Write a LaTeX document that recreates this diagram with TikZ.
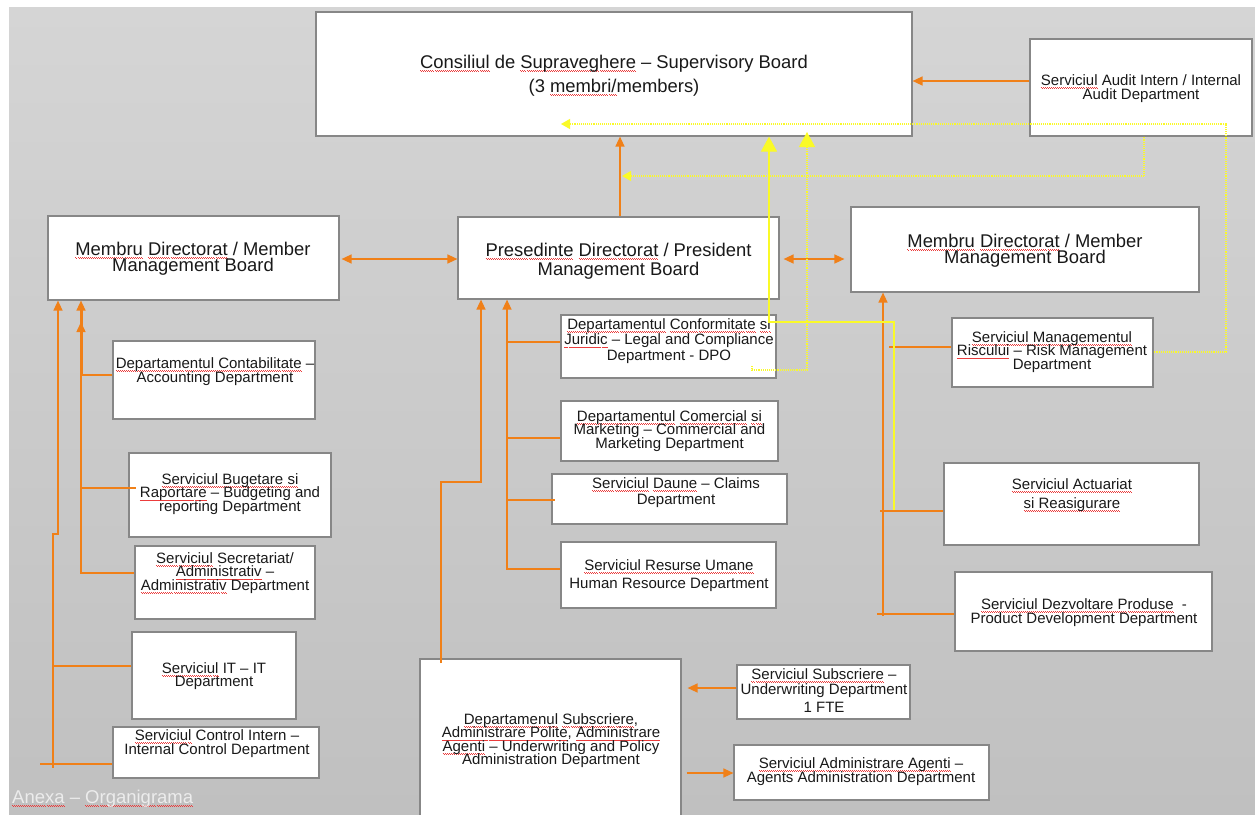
\documentclass[tikz,border=0pt]{standalone}
\usepackage{fontspec}
\setmainfont{Liberation Sans}
\usetikzlibrary{arrows.meta,fit}
\definecolor{orng}{RGB}{240,128,24}
\definecolor{bgtop}{RGB}{213,213,213}
\definecolor{bgbot}{RGB}{192,192,192}
\definecolor{bord}{RGB}{135,135,135}
\definecolor{txt}{RGB}{25,25,25}
\definecolor{sqred}{RGB}{235,60,60}
\definecolor{ylw}{RGB}{250,250,40}
\definecolor{anx}{RGB}{236,236,236}
\newsavebox\sqbox
\newcommand\sq[1]{\sbox\sqbox{#1}\rlap{\color{sqred}\xleaders\hbox{\vrule height -2pt depth 2.9pt width 1pt\vrule height -2.9pt depth 3.8pt width 1pt}\hskip\wd\sqbox}\usebox\sqbox}
\newcommand\ml[2]{\vtop{\baselineskip=#1\lineskiplimit=-\maxdimen\lineskip=0pt\halign{\hfil##\hfil\cr#2\crcr}}}
\tikzset{
 box/.style={draw=bord, line width=1.2pt, fill=white, inner sep=0pt},
 tx/.style={anchor=base, inner sep=0pt, text=txt},
 big/.style={font=\fontsize{18.4}{20}\selectfont},
 sml/.style={font=\fontsize{15}{15}\selectfont},
 conn/.style={draw=orng, line width=1.5pt},
 arr/.style={conn, -{Triangle[length=10pt,width=9pt]}},
 darr/.style={conn, {Triangle[length=10pt,width=9pt]}-{Triangle[length=10pt,width=9pt]}},
 yl/.style={draw=ylw, line width=1.2pt},
 ydot/.style={yl, dash pattern=on 1pt off 0.9pt},
 ysm/.style={-{Triangle[length=9pt,width=10pt]}},
 ybig/.style={-{Triangle[length=15pt,width=16pt]}}
}
\begin{document}
\begin{tikzpicture}[x=1pt,y=-1pt]
\useasboundingbox (0,0) rectangle (1255,814);
\fill[white] (0,0) rectangle (1255,814);
\shade[top color=bgtop, bottom color=bgbot] (9,7) rectangle (1255,814);

% boxes
\node[box, fit={(316,12) (912,136)}] (sv) {};
\node[box, fit={(1030,39) (1252,136)}] (aud) {};
\node[box, fit={(48,216) (339,300)}] (lm) {};
\node[box, fit={(458,217) (779,299)}] (pr) {};
\node[box, fit={(851,207) (1199,292)}] (rm) {};
\node[box, fit={(561,315) (776,378)}] (conf) {};
\node[box, fit={(952,318) (1153,387)}] (risk) {};
\node[box, fit={(113,341) (315,419)}] (cont) {};
\node[box, fit={(561,401) (778,461)}] (com) {};
\node[box, fit={(552,474) (787,524)}] (dau) {};
\node[box, fit={(561,542) (776,608)}] (res) {};
\node[box, fit={(129,453) (331,537)}] (bug) {};
\node[box, fit={(135,546) (315,619)}] (sec) {};
\node[box, fit={(944,463) (1199,545)}] (act) {};
\node[box, fit={(955,572) (1212,651)}] (dez) {};
\node[box, fit={(132,632) (296,719)}] (it) {};
\node[box, fit={(113,727) (319,778)}] (ctl) {};
\node[box, fit={(420,659) (681,820)}] (sub) {};
\node[box, fit={(737,665) (910,719)}] (uw) {};
\node[box, fit={(734,745) (989,800)}] (agt) {};

% texts
\node[tx,big] (svt) at (614,68) {\ml{24pt}{\sq{Consiliul} de \sq{Supraveghere} – Supervisory Board\cr (3 \sq{membri/}members)}};
\node[tx,sml] (audt) at (1141,85) {\ml{14pt}{\sq{Serviciul} Audit Intern / Internal\cr Audit Department}};
\node[tx,big] (lmt) at (193,255) {\ml{16pt}{\sq{Membru} \sq{Directorat} / Member\cr Management Board}};
\node[tx,big] (prt) at (618.5,256) {\ml{19pt}{\sq{Presedinte} \sq{Directorat} / President\cr Management Board}};
\node[tx,big] (rmt) at (1025,247) {\ml{16pt}{\sq{Membru} \sq{Directorat} / Member\cr Management Board}};
\node[tx,sml] (conft) at (669,329) {\ml{15.5pt}{\sq{Departamentul} \sq{Conformitate} \sq{si}\cr \sq{Juridic} – Legal and Compliance\cr Department - DPO}};
\node[tx,sml] (comt) at (669.5,421) {\ml{13.5pt}{\sq{Departamentul} \sq{Comercial} \sq{si}\cr Marketing – Commercial and\cr Marketing Department}};
\node[tx,sml] (daut) at (676,488) {\ml{16pt}{\sq{Serviciul} \sq{Daune} – Claims\cr Department}};
\node[tx,sml] (rest) at (669,570) {\ml{18pt}{\sq{Serviciul Resurse Umane}\cr Human Resource Department}};
\node[tx,sml] (contt) at (215,368) {\ml{14pt}{\sq{Departamentul Contabilitate} –\cr Accounting Department}};
\node[tx,sml] (bugt) at (230,484) {\ml{13.5pt}{\sq{Serviciul Bugetare si}\cr \sq{Raportare} – Budgeting and\cr reporting Department}};
\node[tx,sml] (sect) at (225,563) {\ml{13.5pt}{\sq{Serviciul} Secretariat/\cr \sq{Administrativ} –\cr \sq{Administrativ} Department}};
\node[tx,sml] (itt) at (214,673) {\ml{13pt}{\sq{Serviciul} IT – IT\cr Department}};
\node[tx,sml] (ctlt) at (217,740) {\ml{14pt}{\sq{Serviciul} Control Intern –\cr Internal Control Department}};
\node[tx,sml] (riskt) at (1052,342) {\ml{13.5pt}{\sq{Serviciul Managementul}\cr \sq{Riscului} – Risk Management\cr Department}};
\node[tx,sml] (actt) at (1072,489) {\ml{19pt}{\sq{Serviciul Actuariat}\cr \sq{si Reasigurare}}};
\node[tx,sml] (dezt) at (1084,609) {\ml{14pt}{\sq{Serviciul Dezvoltare Produse}\ \ -\cr Product Development Department}};
\node[tx,sml] (subt) at (551,724) {\ml{13.5pt}{\sq{Departamenul} \sq{Subscriere},\cr \sq{Administrare Polite}, \sq{Administrare}\cr \sq{Agenti} – Underwriting and Policy\cr Administration Department}};
\node[tx,sml] (uwt) at (824,679) {\ml{15pt}{\sq{Serviciul Subscriere} –\cr Underwriting Department\cr\noalign{\vskip3pt} 1 FTE}};
\node[tx,sml] (agtt) at (861,768) {\ml{14pt}{\sq{Serviciul Administrare Agenti} –\cr Agents Administration Department}};
\node[anchor=base west, inner sep=0pt, text=anx, font=\fontsize{18.5}{20}\selectfont] (anxt) at (12,803) {\sq{Anexa} – \sq{Organigrama}};

% orange connectors
\draw[arr] (aud.west |- 0,81) -- (sv.east |- 0,81);
\draw[arr] (pr.north -| 620,0) -- (sv.south -| 620,0);
\draw[darr, shorten <=2pt] (lm.east |- 0,259) -- (pr.west |- 0,259);
\draw[darr, shorten <=4pt, shorten >=6pt] (pr.east |- 0,259) -- (rm.west |- 0,259);

% left group
\draw[arr] (ctl.west |- 0,764) -| (53,534) -| (lm.south west -| 58,0);
\draw[conn] (40,764) -- (53,764) -- (53,768);
\draw[conn] (53,666) -- (it.west |- 0,666);
\draw[arr] (sec.west |- 0,573) -| (lm.south west -| 81,0);
\draw[conn, line width=3pt] (81,376) -- (81,306);
\draw[arr] (81,345) -- (81,322);
\draw[conn] (cont.west |- 0,375) -- (81,375);
\draw[conn, shorten >=-8pt] (81,488) -- (bug.west |- 0,488);

% president group
\draw[arr] (441,663) |- (481,482) -- (pr.south -| 481,0);
\draw[arr] (res.west |- 0,569) -| (pr.south -| 507,0);
\draw[conn] (conf.west |- 0,342) -- (507,342);
\draw[conn] (com.west |- 0,438) -- (507,438);
\draw[conn, shorten >=-4pt] (507,500) -- (dau.west |- 0,500);

% right group
\draw[arr] (883,616) -- (rm.south -| 883,0);
\draw[conn] (877,614) -- (dez.west |- 0,614);
\draw[conn] (880,511) -- (act.west |- 0,511);
\draw[conn] (889,347) -- (risk.west |- 0,347);

% bottom
\draw[arr, shorten >=6pt] (uw.west |- 0,688) -- (sub.east |- 0,688);
\draw[arr, shorten <=5pt] (sub.east |- 0,773) -- (agt.west |- 0,773);

% yellow connectors
\draw[ydot, ysm] (risk.east |- 0,352) -| (1226,124) -- (561,124);
\draw[ydot, ysm] (aud.south -| 1144,0) |- (622,176);
\draw[yl, ybig] (894,510) |- (769,322) -- (sv.south -| 769,0);
\draw[ydot, ybig] (752,366) |- (807,370) -- (807,132);
\end{tikzpicture}
\end{document}
